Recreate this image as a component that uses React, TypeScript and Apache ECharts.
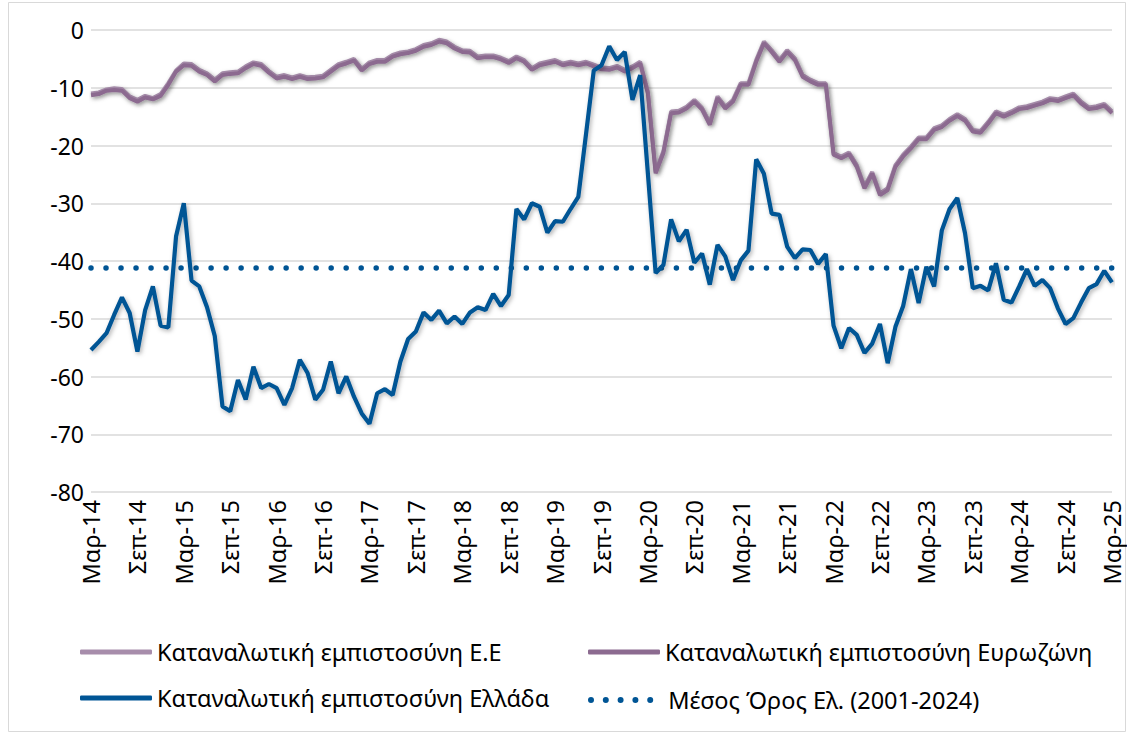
import React, { useEffect, useRef } from "react";
import * as echarts from "echarts";

const MONTH_NAMES = ["Ιαν", "Φεβ", "Μαρ", "Απρ", "Μαϊ", "Ιουν", "Ιουλ", "Αυγ", "Σεπ", "Οκτ", "Νοε", "Δεκ"];
const START_YEAR = 14;
const START_MONTH = 2; // March
const MONTH_COUNT = 133; // Mar-14 .. Mar-25

const categories: string[] = [];
for (let k = 0; k < MONTH_COUNT; k++) {
  const m = (START_MONTH + k) % 12;
  const y = START_YEAR + Math.floor((START_MONTH + k) / 12);
  categories.push(`${MONTH_NAMES[m]}-${y}`);
}

const euValues = [
  -11.0, -10.8, -10.3, -10.1, -10.2, -11.5, -12.1, -11.4, -11.8, -11.1, -9.2, -7.0,
  -5.8, -5.9, -6.9, -7.5, -8.6, -7.5, -7.3, -7.2, -6.3, -5.6, -5.9, -7.1,
  -8.1, -7.8, -8.2, -7.8, -8.2, -8.1, -7.9, -6.9, -5.9, -5.5, -5.0, -6.7,
  -5.6, -5.2, -5.2, -4.3, -3.9, -3.7, -3.3, -2.6, -2.3, -1.7, -2.0, -2.9,
  -3.5, -3.6, -4.6, -4.4, -4.4, -4.8, -5.4, -4.6, -5.2, -6.6, -5.8, -5.5,
  -5.2, -5.8, -5.5, -5.8, -5.5, -6.0, -6.5, -6.6, -6.2, -6.9, -6.3, -5.5,
  -10.7, -24.5, -21.0, -14.1, -14.0, -13.3, -12.1, -13.5, -16.1, -11.5, -13.3, -12.1,
  -9.2, -9.2, -5.2, -2.0, -3.5, -5.2, -3.5, -4.9, -7.8, -8.6, -9.2, -9.2,
  -21.3, -21.9, -21.2, -23.4, -27.1, -24.6, -28.3, -27.4, -23.4, -21.6, -20.2, -18.6,
  -18.6, -17.0, -16.5, -15.4, -14.6, -15.4, -17.3, -17.5, -15.9, -14.1, -14.7, -14.1,
  -13.4, -13.2, -12.8, -12.4, -11.8, -12.0, -11.5, -11.0, -12.4, -13.4, -13.2, -12.8,
  -14.1,
];

const ezValues = [
  -11.3, -11.1, -10.5, -10.4, -10.5, -11.8, -12.4, -11.7, -12.0, -11.4, -9.5, -7.2,
  -6.1, -6.2, -7.2, -7.8, -8.9, -7.8, -7.6, -7.5, -6.6, -5.9, -6.2, -7.4,
  -8.4, -8.1, -8.5, -8.1, -8.5, -8.4, -8.2, -7.2, -6.2, -5.8, -5.3, -7.0,
  -5.9, -5.5, -5.5, -4.6, -4.2, -4.0, -3.6, -2.9, -2.6, -2.0, -2.3, -3.2,
  -3.8, -3.9, -4.9, -4.7, -4.7, -5.1, -5.7, -4.9, -5.5, -6.9, -6.1, -5.8,
  -5.5, -6.1, -5.8, -6.1, -5.8, -6.3, -6.8, -6.9, -6.5, -7.2, -6.6, -5.8,
  -11.0, -24.8, -21.3, -14.4, -14.3, -13.6, -12.4, -13.8, -16.4, -11.8, -13.6, -12.4,
  -9.5, -9.5, -5.5, -2.3, -3.8, -5.5, -3.8, -5.2, -8.1, -8.9, -9.5, -9.5,
  -21.6, -22.2, -21.5, -23.7, -27.4, -24.9, -28.6, -27.7, -23.7, -21.9, -20.5, -18.9,
  -18.9, -17.3, -16.8, -15.7, -14.9, -15.7, -17.6, -17.8, -16.2, -14.4, -15.0, -14.4,
  -13.7, -13.5, -13.1, -12.7, -12.1, -12.3, -11.8, -11.3, -12.7, -13.7, -13.5, -13.1,
  -14.4,
];

const greeceValues = [
  -55.4, -54.0, -52.5, -49.3, -46.3, -49.0, -55.7, -48.5, -44.4, -51.2, -51.5, -35.7,
  -30.0, -43.4, -44.4, -48.0, -53.0, -65.2, -66.0, -60.6, -64.0, -58.3, -62.0, -61.3,
  -62.0, -64.9, -62.0, -57.1, -59.4, -64.0, -62.3, -57.4, -62.9, -60.0, -63.5, -66.4,
  -68.2, -62.9, -62.2, -63.2, -57.4, -53.5, -52.2, -48.9, -50.2, -48.6, -50.8, -49.6,
  -50.9, -48.9, -48.0, -48.5, -45.7, -47.8, -45.9, -31.0, -32.8, -30.0, -30.6, -35.1,
  -33.1, -33.2, -31.0, -28.9, -18.0, -7.0, -6.1, -2.8, -5.2, -3.8, -12.1, -7.8,
  -24.9, -42.1, -40.7, -32.8, -36.6, -34.6, -40.3, -38.7, -44.1, -37.2, -39.2, -43.3,
  -39.9, -38.2, -22.4, -24.9, -31.8, -32.0, -37.5, -39.5, -38.0, -38.1, -40.5, -38.8,
  -51.2, -55.1, -51.6, -52.8, -55.9, -54.3, -50.9, -57.7, -51.4, -47.8, -41.4, -47.3,
  -41.0, -44.4, -34.7, -31.0, -29.1, -35.2, -44.7, -44.3, -45.1, -40.4, -46.7, -47.2,
  -44.4, -41.4, -44.3, -43.3, -44.7, -48.2, -50.9, -49.9, -47.2, -44.7, -44.0, -41.7,
  -43.7,
];

const greeceAverage = -41.2;
const averageValues = categories.map(() => greeceAverage);

const SERIES_NAMES = [
  "Καταναλωτική εμπιστοσύνη Ε.Ε",
  "Καταναλωτική εμπιστοσύνη Ευρωζώνη",
  "Καταναλωτική εμπιστοσύνη Ελλάδα",
  "Μέσος Όρος Ελ. (2001-2024)",
];

const COLOR_EU = "#a78dab";
const COLOR_EZ = "#8c6b90";
const COLOR_GR = "#005595";

const FONT = "'Noto Sans', sans-serif";

// five dots icon for the dotted legend entry
const DOT_R = 3;
const DOT_STEP = 14.8;
const dotsIcon =
  "path://" +
  [0, 1, 2, 3, 4]
    .map((k) => {
      const x0 = k * DOT_STEP;
      return `M${x0},${DOT_R}a${DOT_R},${DOT_R} 0 1,0 ${2 * DOT_R},0a${DOT_R},${DOT_R} 0 1,0 ${-2 * DOT_R},0Z`;
    })
    .join("");

export default function App() {
  const ref = useRef<HTMLDivElement>(null);
  useEffect(() => {
    if (!ref.current) return;
    const chart = echarts.init(ref.current, null, { renderer: "svg" });
    const shadow = {
      shadowColor: "rgba(0,0,0,0.3)",
      shadowBlur: 4,
      shadowOffsetX: 1.5,
      shadowOffsetY: 2,
    };
    const legendText = { fontSize: 23.5, fontFamily: FONT, color: "#000", lineHeight: 26 };
    const legendBase = { orient: "horizontal", padding: 0, itemGap: 0, selectedMode: false };
    chart.setOption({
      animation: false,
      backgroundColor: "#ffffff",
      textStyle: { fontFamily: FONT, color: "#000" },
      graphic: [
        {
          type: "rect",
          shape: { x: 8.5, y: 2.5, width: 1117, height: 729 },
          style: { fill: "none", stroke: "#d9d9d9", lineWidth: 1 },
          silent: true,
        },
      ],
      grid: { left: 91, right: 15, top: 30, bottom: 241, containLabel: false },
      xAxis: {
        type: "category",
        data: categories,
        boundaryGap: false,
        axisLine: { show: false },
        axisTick: { show: false },
        splitLine: { show: false },
        axisLabel: {
          interval: 5,
          rotate: 90,
          margin: 8,
          fontSize: 23.5,
          lineHeight: 22,
          fontFamily: FONT,
          color: "#000",
        },
      },
      yAxis: {
        type: "value",
        min: -80,
        max: 0,
        interval: 10,
        axisLine: { show: false },
        axisTick: { show: false },
        splitLine: { lineStyle: { color: "#d9d9d9", width: 1.5 } },
        axisLabel: { margin: 7, fontSize: 23, fontFamily: FONT, color: "#000" },
      },
      legend: [
        {
          ...legendBase,
          data: [{ name: SERIES_NAMES[0], icon: "roundRect" }],
          left: 80,
          top: 639,
          itemWidth: 72,
          itemHeight: 5,
          textStyle: legendText,
        },
        {
          ...legendBase,
          data: [{ name: SERIES_NAMES[2], icon: "roundRect" }],
          left: 80,
          top: 685,
          itemWidth: 72,
          itemHeight: 5,
          textStyle: legendText,
        },
        {
          ...legendBase,
          data: [{ name: SERIES_NAMES[1], icon: "roundRect" }],
          left: 588,
          top: 639,
          itemWidth: 72,
          itemHeight: 5,
          textStyle: legendText,
        },
        {
          ...legendBase,
          data: [{ name: SERIES_NAMES[3], icon: dotsIcon }],
          left: 588,
          top: 687,
          itemWidth: 65.2,
          itemHeight: 6,
          textStyle: { ...legendText, padding: [0, 0, 0, 10] },
        },
      ],
      series: [
        {
          name: SERIES_NAMES[0],
          type: "line",
          data: euValues,
          symbol: "none",
          z: 2,
          lineStyle: { color: COLOR_EU, width: 4, ...shadow },
          itemStyle: { color: COLOR_EU },
        },
        {
          name: SERIES_NAMES[1],
          type: "line",
          data: ezValues,
          symbol: "none",
          z: 3,
          lineStyle: { color: COLOR_EZ, width: 4, ...shadow },
          itemStyle: { color: COLOR_EZ },
        },
        {
          name: SERIES_NAMES[2],
          type: "line",
          data: greeceValues,
          symbol: "none",
          z: 5,
          lineStyle: { color: COLOR_GR, width: 4.2, ...shadow },
          itemStyle: { color: COLOR_GR },
        },
        {
          name: SERIES_NAMES[3],
          type: "line",
          data: averageValues,
          symbol: "none",
          z: 4,
          lineStyle: {
            color: COLOR_GR,
            width: 5.5,
            type: [0.01, 15],
            cap: "round",
          },
          itemStyle: { color: COLOR_GR },
        },
      ],
    });
    return () => chart.dispose();
  }, []);
  return (
    <div
      ref={ref}
      style={{ position: "fixed", left: 0, top: 0, width: 1127, height: 733, background: "#fff" }}
    />
  );
}
